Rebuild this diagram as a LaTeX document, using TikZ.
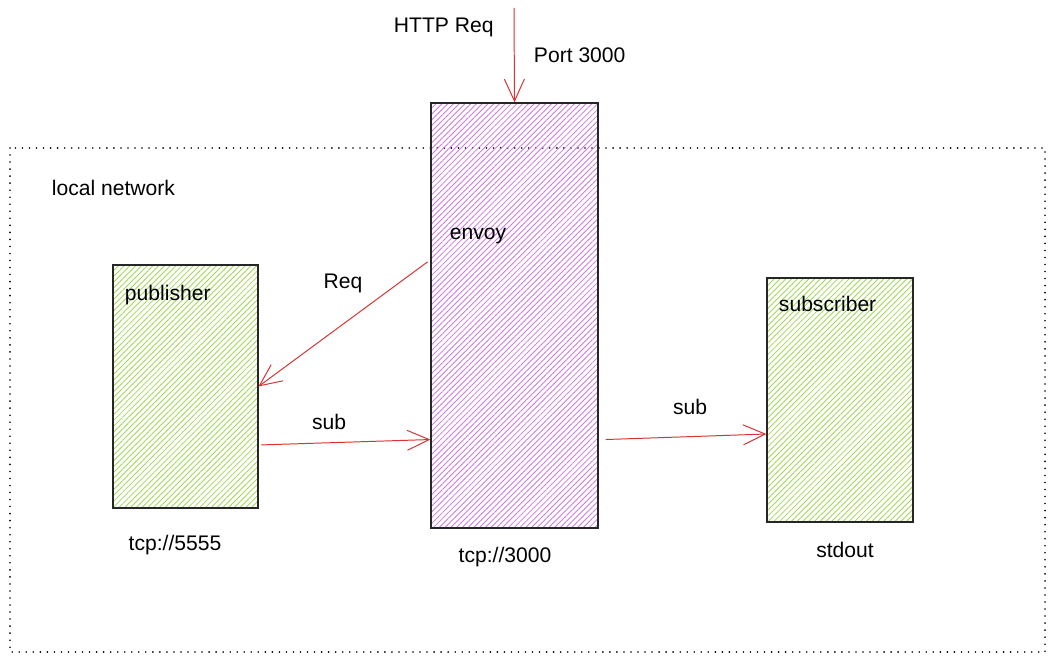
\documentclass[tikz,border=0pt]{standalone}
\usepackage{fontspec}
\setmainfont{Liberation Sans}
\usetikzlibrary{arrows.meta,patterns.meta}
\definecolor{lime}{HTML}{82C91E}
\definecolor{grape}{HTML}{BE4BDB}
\definecolor{arrowred}{HTML}{D63333}

\begin{document}
\begin{tikzpicture}[x=0.025cm,y=-0.025cm,
    font=\fontsize{15}{17}\selectfont,
    box/.style={draw=black!85,line width=0.9pt,inner sep=0pt},
    greenbox/.style={box,pattern={Lines[angle=45,distance=2.9pt,line width=0.6pt]},pattern color=lime!75},
    purplebox/.style={box,pattern={Lines[angle=45,distance=2.9pt,line width=0.6pt]},pattern color=grape!75},
    flow/.style={draw=arrowred,line width=0.7pt,-{Straight Barb[length=5.5mm,width=5mm,line width=0.7pt]}}]
      \useasboundingbox (0,0) rectangle (1056,661);
      % local network
      \draw[line width=1.3pt,line cap=round,dash pattern=on 0pt off 5pt] (10,148) rectangle (1045,652);
      \node[anchor=west] (lan) at (47,188) {local network};
      % boxes
      \node[greenbox,minimum width=3.625cm,minimum height=6.075cm] (pub) at (185.5,386.5) {};
      \node[purplebox,minimum width=4.175cm,minimum height=10.625cm] (env) at (514.5,315.5) {};
      \node[greenbox,minimum width=3.65cm,minimum height=6.1cm] (sub) at (840,400) {};
      \node[anchor=west] (publbl) at (120,295) {publisher};
      \node[anchor=west] (envlbl) at (445,236) {envoy};
      \node[anchor=west] (sublbl) at (774,304) {subscriber};
      \node (pubport) at (175,545) {tcp://5555};
      \node (envport) at (505,557) {tcp://3000};
      \node (subout) at (845,550) {stdout};
      % incoming request
      \coordinate (client) at (514,8);
      \draw[flow] (client) -- (env.north);
      \node[anchor=west] (httplbl) at (389,27) {HTTP Req};
      \node[anchor=west] (portlbl) at (529,55) {Port 3000};
      % arrows
      \draw[flow] ([xshift=-2pt,yshift=1.34cm]env.west) -- (pub.east);
      \node (reqlbl) at (343,283) {Req};
      \draw[flow] ([xshift=2pt,yshift=-1.46cm]pub.east) -- ([yshift=-3.1cm]env.west);
      \node (sublbl1) at (329,422) {sub};
      \draw[flow] ([xshift=5pt,yshift=-3.1cm]env.east) -- ([yshift=-0.85cm]sub.west);
      \node (sublbl2) at (690,407) {sub};
    \end{tikzpicture}
\end{document}
